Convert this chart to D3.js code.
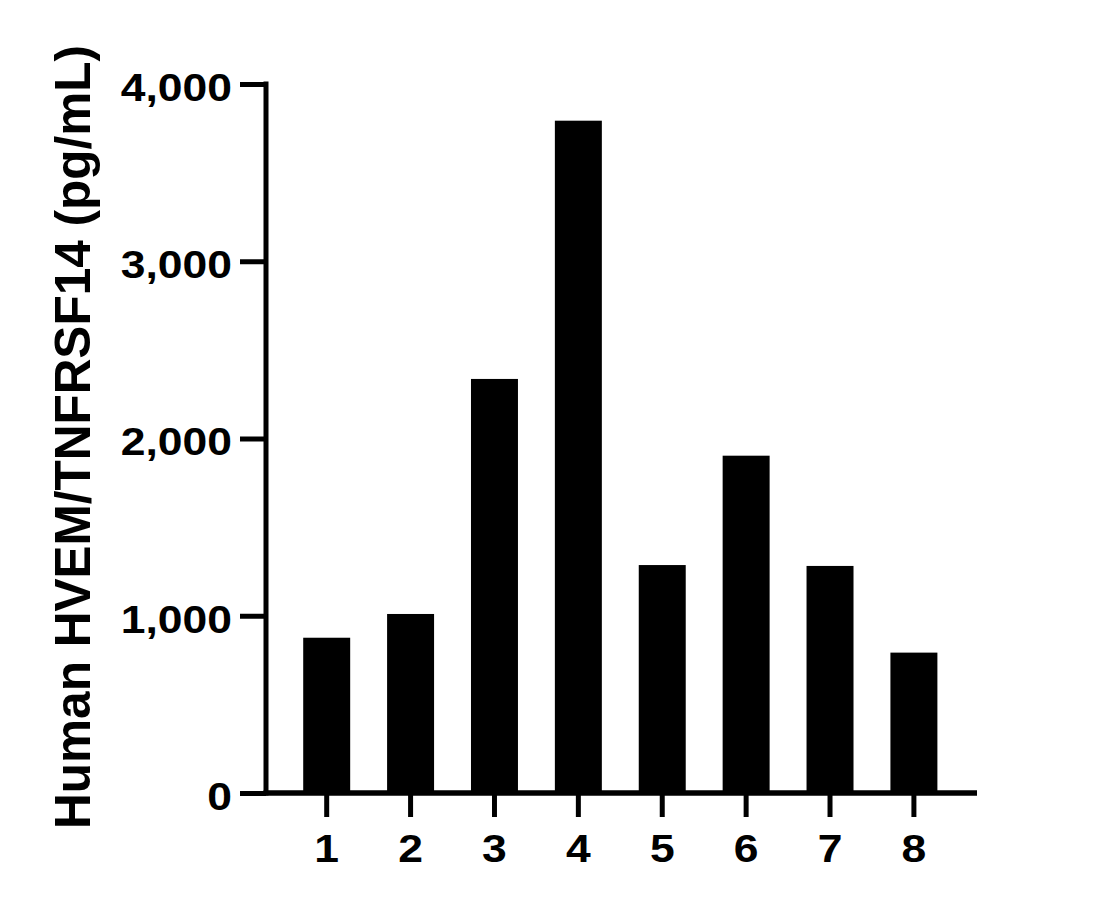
<!DOCTYPE html>
<html>
<head>
<meta charset="utf-8">
<script src="https://cdn.jsdelivr.net/npm/d3@7"></script>
<style>
  html, body { margin: 0; padding: 0; background: #fff; }
  svg { display: block; }
  text { font-family: "Liberation Sans", Arial, sans-serif; font-weight: bold; fill: #000; }
</style>
</head>
<body>
<svg id="chart" width="1108" height="910"></svg>
<script>
const categories = ["1", "2", "3", "4", "5", "6", "7", "8"];
const values = [876, 1010, 2336, 3793, 1286, 1903, 1281, 792];
const yTicks = [0, 1000, 2000, 3000, 4000];
const yLabel = "Human HVEM/TNFRSF14 (pg/mL)";

const svg = d3.select("#chart");

const y = d3.scaleLinear().domain([0, 4000]).range([793, 84]);
const x = d3.scaleBand().domain(categories)
  .range([284.75, 955.85]).paddingInner(0.44).paddingOuter(0.22);

const fontFam = "'Liberation Sans', Arial, sans-serif";
const stretch = 1.14;

// bars
svg.append("g").selectAll("rect")
  .data(values)
  .join("rect")
  .attr("x", (d, i) => x(categories[i]))
  .attr("width", x.bandwidth())
  .attr("y", d => y(d))
  .attr("height", d => y(0) - y(d))
  .attr("fill", "#000");

// y axis
const yAxis = svg.append("g").attr("transform", "translate(266,0)")
  .call(d3.axisLeft(y).tickValues(yTicks).tickSize(26).tickPadding(8)
    .tickFormat(d3.format(",")));
yAxis.select(".domain").attr("stroke", "#000").attr("stroke-width", 5)
  .attr("d", `M0,${y(4000) - 2.5}V${y(0) + 2.5}`);
yAxis.selectAll(".tick line").attr("stroke", "#000").attr("stroke-width", 5);
yAxis.selectAll(".tick text")
  .style("font-size", "39px").style("font-family", fontFam).style("font-weight", "bold")
  .attr("x", 0).attr("dy", "0.42em")
  .attr("transform", `translate(-34,0) scale(${stretch},1)`);

// x axis
const xAxis = svg.append("g").attr("transform", `translate(0,${y(0)})`)
  .call(d3.axisBottom(x).tickSize(24).tickPadding(17));
xAxis.select(".domain").attr("stroke", "#000").attr("stroke-width", 5.5)
  .attr("d", "M263.5,0H977");
xAxis.selectAll(".tick line").attr("stroke", "#000").attr("stroke-width", 5);
xAxis.selectAll(".tick text")
  .style("font-size", "39px").style("font-family", fontFam).style("font-weight", "bold")
  .attr("transform", `scale(${stretch},1)`);

// y label
svg.append("text")
  .attr("transform", "translate(90,437) rotate(-90)")
  .attr("text-anchor", "middle")
  .style("font-size", "49.5px")
  .text(yLabel);
</script>
</body>
</html>
